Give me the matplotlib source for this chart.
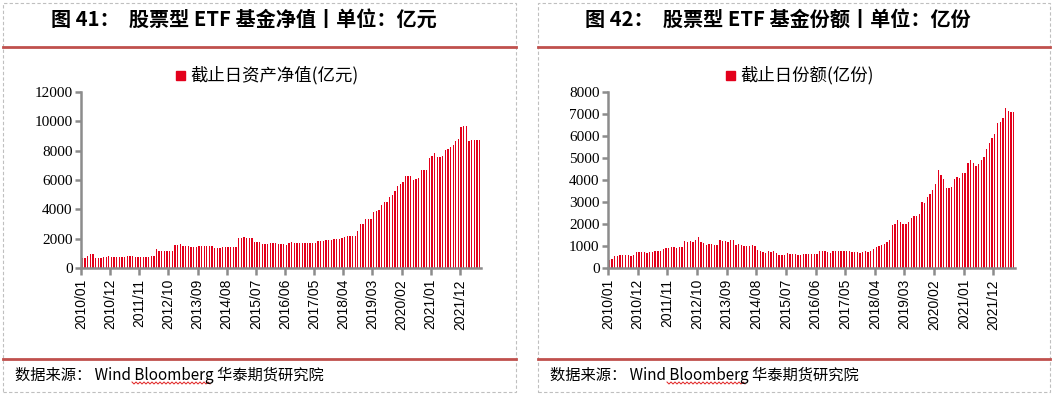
import numpy as np
import matplotlib as mpl
mpl.use("Agg")
import matplotlib.pyplot as plt
from matplotlib.lines import Line2D
from matplotlib.patches import Rectangle

plt.rcParams['font.family'] = ['Noto Sans CJK SC', 'DejaVu Sans']

# monthly categories 2010/01 .. 2022/07
months = ['%d/%02d' % (2010 + k // 12, k % 12 + 1) for k in range(151)]

# 截止日资产净值(亿元)
nav = [700, 700, 840, 930, 930, 700, 700, 700, 770, 770,
       840, 770, 770, 770, 770, 770, 770, 840, 840, 840,
       770, 770, 770, 770, 770, 770, 840, 840,
       1320, 1180, 1180, 1180, 1180, 1180, 1180, 1590, 1590, 1660,
       1520, 1520, 1520, 1450, 1450, 1450, 1520, 1520, 1520, 1520,
       1520, 1520, 1390, 1390, 1390, 1450, 1450, 1450, 1450, 1450, 1450,
       2070, 2070, 2140, 2070, 2070, 2070, 1800, 1800, 1800, 1660, 1660, 1660,
       1680, 1680, 1680, 1640, 1640, 1640, 1570, 1680, 1750,
       1700, 1700, 1700, 1700, 1700, 1700, 1700, 1700, 1700,
       1840, 1840, 1840, 1910, 1910, 1910, 1980, 1980, 1980,
       2050, 2110, 2160, 2180, 2180, 2180, 2520, 3000, 3000,
       3340, 3340, 3340, 3820, 3890, 3950, 4300, 4500, 4500,
       4840, 4980, 5250, 5590, 5730, 5860, 6270, 6270, 6270,
       6000, 6070, 6140, 6680, 6680, 6680, 7500, 7640, 7840,
       7570, 7570, 7640, 8050, 8110, 8250, 8390, 8660, 8800,
       9610, 9680, 9680, 8660, 8730, 8730, 8730, 8730]

# 截止日份额(亿份)
shares = [380, 420, 560, 560, 610, 610, 610, 610, 560, 610,
          740, 740, 740, 740, 700, 740, 740, 790, 790, 790,
          880, 920, 920, 970, 970, 920, 970, 970,
          1240, 1200, 1240, 1200, 1290, 1420, 1200, 1150, 1060, 1100,
          1100, 1060, 1060, 1290, 1240, 1240, 1200, 1290, 1290, 1060,
          1100, 1060, 1020, 1020, 1020, 1060, 1020, 830, 790, 740,
          700, 790, 740, 790, 700, 610, 610, 610, 700,
          620, 620, 620, 575, 575, 620, 620, 620, 620, 620, 620,
          760, 760, 760, 720, 670, 760, 760, 760, 760, 760, 760, 760,
          720, 720, 720, 670, 720, 760, 720, 760,
          850, 940, 990, 1030, 1080, 1170, 1260,
          1940, 1990, 2170, 2080, 1990, 1990, 2080, 2260, 2350, 2350, 2440,
          2990, 2940, 3210, 3350, 3530, 3800, 4440, 4210, 4030,
          3620, 3620, 3670, 4030, 4120, 4080, 4310, 4310,
          4760, 4900, 4760, 4620, 4710, 4900, 5030, 5400, 5670,
          5900, 6080, 6580, 6620, 6800, 7260, 7120, 7080, 7080]

W, H = 1054, 395
fig = plt.figure(figsize=(W / 100, H / 100), dpi=100)

bar_color = '#E3001B'
line_red = '#C0504D'
axis_gray = '#8C8C8C'


def px(x, y, w, h):
    return [x / W, (H - y - h) / H, w / W, h / H]


def panel(x0, x1, title, legend_txt, lx, ax_rect, data, ymax, ystep):
    # dashed frame
    fig.add_artist(Rectangle((x0 / W, 3 / H), (x1 - x0) / W, (H - 6) / H,
                             transform=fig.transFigure, fill=False,
                             ec='#BFBFBF', lw=0.8, ls=(0, (3, 2))))
    # red rules
    for yy in (46.5, 359):
        fig.add_artist(Line2D([x0 / W, x1 / W], [1 - yy / H, 1 - yy / H],
                              color=line_red, lw=2))
    fig.text((x0 + x1) / 2 / W - 0.015, 1 - 19 / H, title, ha='center', va='center',
             fontsize=14.5, fontweight='bold')
    fig.text((x0 + 12) / W, 1 - 375 / H, '数据来源： Wind Bloomberg 华泰期货研究院',
             ha='left', va='center', fontsize=11)
    # spell-check squiggle under "Bloomberg"
    zx = np.arange(x0 + 129, x0 + 209, 2.0)
    zy = 383 + np.where(np.arange(len(zx)) % 2 == 0, -1.0, 1.0)
    fig.add_artist(Line2D(zx / W, 1 - zy / H, color='#E02020', lw=0.7))
    # legend
    fig.add_artist(Rectangle(((lx - 14) / W, 1 - 80 / H), 9 / W, 9 / H,
                             transform=fig.transFigure, color=bar_color))
    fig.text(lx / W, 1 - 75 / H, legend_txt, ha='left', va='center', fontsize=12.5)

    ax = fig.add_axes(px(*ax_rect))
    x = np.arange(len(data)) + 0.5
    ax.bar(x, data, width=0.5, color=bar_color, linewidth=0)
    ax.set_xlim(0, len(data))
    ax.set_ylim(0, ymax)
    ax.set_yticks(np.arange(0, ymax + 1, ystep))
    ax.set_yticklabels([str(v) for v in range(0, ymax + 1, ystep)],
                       family='Liberation Serif', fontsize=11)
    ticks = np.arange(0, len(data), 11)
    ax.set_xticks(ticks)
    ax.set_xticklabels([months[t] for t in ticks], rotation=90,
                       family='Liberation Sans', fontsize=10)
    for s in ('top', 'right'):
        ax.spines[s].set_visible(False)
    for s in ('left', 'bottom'):
        ax.spines[s].set_color(axis_gray)
        ax.spines[s].set_linewidth(1.8)
    ax.tick_params(axis='x', direction='out', length=5, width=1.8, color=axis_gray, pad=3)
    ax.tick_params(axis='y', direction='out', length=4, width=1.8, color=axis_gray, pad=2)
    ax.set_facecolor('none')
    return ax


panel(3, 516, '图 41：  股票型 ETF 基金净值丨单位：亿元', '截止日资产净值(亿元)', 190,
      (81, 92, 400, 176), nav, 12000, 2000)
panel(538, 1050, '图 42：  股票型 ETF 基金份额丨单位：亿份', '截止日份额(亿份)', 740,
      (608, 92, 407, 176), shares, 8000, 1000)

fig.savefig('out.png', dpi=100)
